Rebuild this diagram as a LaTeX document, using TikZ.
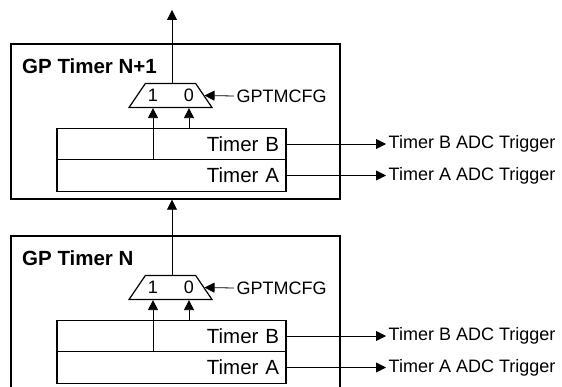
\documentclass[tikz,border=0pt]{standalone}
\usepackage{fontspec}
\setmainfont{Liberation Sans}
\usetikzlibrary{shapes.geometric, arrows.meta, positioning, calc}
\tikzset{
    outerbox/.style={draw, line width=1.4pt, minimum width=329pt, minimum height=155pt, inner sep=0pt},
    timerrow/.style={draw, line width=1.4pt, minimum height=31.5pt, text width=215pt, align=right, inner xsep=7pt, inner ysep=0pt, font=\fontsize{20.5}{24}\selectfont},
    mux/.style={draw, line width=1.2pt, trapezium, trapezium left angle=72, trapezium right angle=72, trapezium stretches=true, minimum width=83pt, minimum height=24pt, inner sep=1pt},
    digit/.style={font=\fontsize{18}{22}\selectfont, inner sep=0pt},
    title/.style={font=\fontsize{20.5}{24}\selectfont\bfseries, anchor=base west, inner sep=0pt},
    label/.style={font=\fontsize{18}{22}\selectfont, anchor=west, inner sep=2.5pt},
    sig/.style={line width=0.8pt, -{Triangle[length=10pt, width=10pt]}}
}

\begin{document}
\begin{tikzpicture}[x=1pt, y=-1pt]
    \useasboundingbox (0,0) rectangle (562,387);
    \clip (0,0) rectangle (562,387);

    % --- GP TIMER N+1 ---
    \begin{scope}[shift={(0,0)}]
        \node[outerbox] (boxU) at (175.5,121.5) {};
        \node[title] (titleU) at (22,74) {GP Timer N+1};
        \node[mux] (muxU) at (170.5,95.5) {};
        \node[digit] (oneU) at (153,95.5) {1};
        \node[digit] (zeroU) at (189,95.5) {0};
        \node[timerrow] (tbU) at (171.5,144) {Timer B};
        \node[timerrow] (taU) at (171.5,175.5) {Timer A};
        \node[label] (cfgU) at (234,96) {GPTMCFG};
        \node[label] (trigbU) at (386,144) {Timer B ADC Trigger};
        \node[label] (trigaU) at (386,175.5) {Timer A ADC Trigger};
        \coordinate (outU) at (172,10);

        \draw[sig] (tbU.north -| oneU) -- (muxU.south -| oneU);
        \draw[sig] (tbU.north -| zeroU) -- (muxU.south -| zeroU);
        \draw[line width=0.8pt] (taU.north -| oneU) -- (tbU.north -| oneU);
        \draw[sig] (cfgU.west) -- (muxU.east);
        \draw[sig] (tbU.east) -- (trigbU.west);
        \draw[sig] (taU.east) -- (trigaU.west);
        \draw[sig] (muxU.north -| outU) -- (outU);
    \end{scope}

    % --- GP TIMER N ---
    \begin{scope}[shift={(0,192)}]
        \node[outerbox] (boxL) at (175.5,121.5) {};
        \node[title] (titleL) at (22,74) {GP Timer N};
        \node[mux] (muxL) at (170.5,95.5) {};
        \node[digit] (oneL) at (153,95.5) {1};
        \node[digit] (zeroL) at (189,95.5) {0};
        \node[timerrow] (tbL) at (171.5,144) {Timer B};
        \node[timerrow] (taL) at (171.5,175.5) {Timer A};
        \node[label] (cfgL) at (234,96) {GPTMCFG};
        \node[label] (trigbL) at (386,144) {Timer B ADC Trigger};
        \node[label] (trigaL) at (386,175.5) {Timer A ADC Trigger};

        \draw[sig] (tbL.north -| oneL) -- (muxL.south -| oneL);
        \draw[sig] (tbL.north -| zeroL) -- (muxL.south -| zeroL);
        \draw[line width=0.8pt] (taL.north -| oneL) -- (tbL.north -| oneL);
        \draw[sig] (cfgL.west) -- (muxL.east);
        \draw[sig] (tbL.east) -- (trigbL.west);
        \draw[sig] (taL.east) -- (trigaL.west);
    \end{scope}

    % chain: lower mux feeds upper block
    \draw[sig] (muxL.north -| outU) -- (boxU.south -| outU);

\end{tikzpicture}
\end{document}
